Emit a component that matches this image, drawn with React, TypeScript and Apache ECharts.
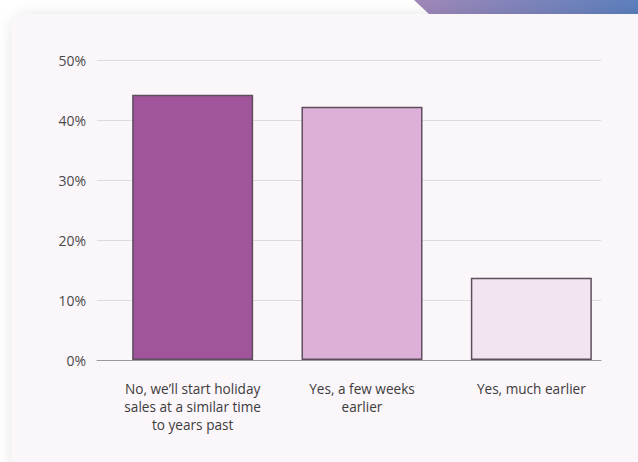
import React, { useEffect, useRef } from "react";
import * as echarts from "echarts";

const categories = [
  "No, we’ll start holiday\nsales at a similar time\nto years past",
  "Yes, a few weeks\nearlier",
  "Yes, much earlier",
];
const values = [44.2, 42.2, 13.7];
const barColors = ["#a0559a", "#dcb0d8", "#f2e5f1"];
const yMin = 0;
const yMax = 50;
const yStep = 10;

export default function App() {
  const ref = useRef<HTMLDivElement>(null);
  useEffect(() => {
    if (!ref.current) return;
    const chart = echarts.init(ref.current, null, { renderer: "svg" });
    const font = "Open Sans";
    chart.setOption({
      animation: false,
      backgroundColor: "#ffffff",
      graphic: [
        {
          type: "polygon",
          z: -10,
          shape: { points: [[414, 0], [640, 0], [640, 20], [430, 15]] },
          style: {
            fill: new echarts.graphic.LinearGradient(0, 0, 1, 0, [
              { offset: 0, color: "#a088b8" },
              { offset: 1, color: "#5b7fbd" },
            ]),
          },
        },
        {
          type: "rect",
          z: -9,
          shape: { x: 11, y: 14, width: 660, height: 520, r: 18 },
          style: {
            fill: "#fbf6fa",
            shadowBlur: 14,
            shadowColor: "rgba(0,0,0,0.10)",
          },
        },
      ],
      grid: [
        { left: 97, right: 37, top: 60, bottom: 102 },
        { left: 108, right: 22, top: 60, bottom: 102 },
      ],
      xAxis: [
        {
          gridIndex: 0,
          type: "category",
          data: [""],
          axisLine: { show: true, lineStyle: { color: "#9a9a9a", width: 1 } },
          axisTick: { show: false },
          axisLabel: { show: false },
        },
        {
          gridIndex: 1,
          type: "category",
          data: categories,
          axisLine: { show: false },
          axisTick: { show: false },
          axisLabel: {
            interval: 0,
            margin: 19,
            color: "#3c3c3c",
            fontFamily: font,
            fontSize: 13.6,
            lineHeight: 18,
            align: "center",
          },
        },
      ],
      yAxis: [
        {
          gridIndex: 0,
          type: "value",
          min: yMin,
          max: yMax,
          interval: yStep,
          axisLine: { show: false },
          axisTick: { show: false },
          splitLine: { lineStyle: { color: "#dedade", width: 1 } },
          axisLabel: {
            formatter: "{value}%",
            margin: 11,
            color: "#4a4a4a",
            fontFamily: font,
            fontSize: 14,
          },
        },
        {
          gridIndex: 1,
          type: "value",
          min: yMin,
          max: yMax,
          interval: yStep,
          show: false,
        },
      ],
      series: [
        {
          type: "bar",
          xAxisIndex: 1,
          yAxisIndex: 1,
          barWidth: 121,
          data: values.map((v, i) => ({
            value: v,
            itemStyle: {
              color: barColors[i],
              borderColor: "#5e4f5e",
              borderWidth: 1.5,
            },
          })),
        },
      ],
    });
    return () => chart.dispose();
  }, []);
  return (
    <div
      ref={ref}
      style={{ position: "fixed", left: 0, top: 0, width: 638, height: 462 }}
    />
  );
}
